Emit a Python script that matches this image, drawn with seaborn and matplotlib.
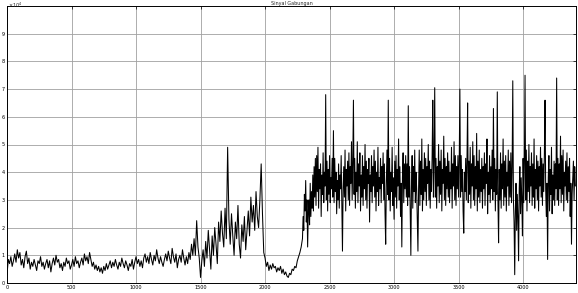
import numpy as np
import pandas as pd
import matplotlib
matplotlib.use("Agg")
import matplotlib.pyplot as plt
import seaborn as sns

# ---- data (values in units of 1e4) ----
# quiet / burst / dip: one value every 10 samples; loud: one value every 5 samples
quiet = [0.30, 0.85, 0.70, 0.95, 0.60, 0.80, 1.05, 0.75, 1.20, 0.90,
         1.10, 0.65, 0.85, 0.55, 0.95, 1.15, 0.70, 0.90, 0.50, 0.75,
         0.60, 0.85, 0.65, 0.45, 0.80, 0.70, 0.95, 0.60, 0.75, 0.50,
         0.70, 0.85, 0.55, 0.80, 0.40, 0.70, 0.90, 0.65, 1.00, 0.75,
         0.85, 0.55, 0.70, 0.45, 0.75, 0.60, 0.90, 0.70, 0.80, 0.50,
         0.65, 0.85, 0.60, 0.95, 0.70, 0.80, 0.55, 0.75, 0.90, 0.65,
         1.05, 0.80, 0.95, 0.70, 1.10, 0.85, 0.60, 0.75, 0.50, 0.65,
         0.45, 0.60, 0.40, 0.55, 0.35, 0.60, 0.45, 0.70, 0.50, 0.65,
         0.80, 0.55, 0.75, 0.60, 0.85, 0.65, 0.50, 0.75, 0.60, 0.90,
         0.70, 0.55, 0.80, 0.65, 0.45, 0.70, 0.60, 0.85, 0.50, 0.75,
         0.95, 0.70, 0.85, 0.60, 0.80, 0.55, 0.90, 1.05, 0.75, 0.95,
         0.70, 1.10, 0.85, 0.65, 1.00, 0.80, 1.20, 0.90, 0.70, 0.95,
         0.75, 0.60, 0.85, 1.05, 0.80, 1.15, 0.90, 0.70, 1.25, 0.95,
         0.75, 1.05, 0.55, 0.85, 1.00, 0.75, 1.20, 0.90, 0.65, 0.95,
         0.70, 1.10, 0.85, 1.40, 1.00]
burst = [1.60, 1.00, 2.25, 1.30, 0.90, 0.20, 0.80, 1.20, 0.60, 1.50,
         0.90, 1.90, 1.20, 0.50, 1.70, 1.00, 2.00, 1.40, 0.70, 2.20,
         1.50, 2.60, 1.80, 1.30, 2.70, 1.60, 4.90, 2.30, 1.40, 2.50,
         1.70, 1.00, 2.20, 1.60, 2.80, 1.40, 0.90, 2.10, 1.50, 2.40,
         1.20, 1.90, 2.60, 1.70, 3.10, 2.20, 2.80, 1.90, 3.30, 2.40,
         2.00, 3.00, 4.30, 2.50, 1.10]
dip = [0.90, 0.60, 0.75, 0.45, 0.65, 0.50, 0.70, 0.55, 0.60, 0.40,
       0.55, 0.45, 0.60, 0.35, 0.50, 0.30, 0.40, 0.25, 0.20, 0.35,
       0.30, 0.50, 0.45, 0.60, 0.55, 0.80, 0.95, 1.10, 1.30]
loud = [1.60, 2.40, 1.90, 3.20, 2.60, 3.70, 2.20, 3.00, 1.30, 2.50,
        3.00, 2.10, 3.60, 2.40, 3.30, 2.70, 3.90, 2.60, 4.20, 3.10,
        4.50, 2.80, 4.60, 3.30, 4.90, 2.70, 4.10, 3.40, 4.30, 2.40,
        3.90, 3.20, 4.70, 2.90, 4.00, 3.50, 6.80, 3.00, 4.40, 2.60,
        4.10, 3.20, 4.60, 2.90, 3.80, 3.40, 4.50, 3.10, 5.50, 2.90,
        4.50, 3.30, 4.00, 2.50, 3.70, 3.00, 4.30, 2.70, 3.90, 3.40,
        4.60, 2.80, 1.15, 3.40, 4.20, 3.10, 4.80, 2.60, 4.10, 3.50,
        4.40, 3.00, 4.70, 2.80, 4.20, 3.60, 5.10, 3.00, 4.30, 6.60,
        3.20, 4.50, 2.70, 4.00, 3.30, 5.10, 2.90, 4.30, 3.50, 4.70,
        2.60, 3.90, 3.10, 4.60, 2.80, 4.20, 3.40, 5.00, 3.00, 4.40,
        2.70, 4.10, 3.60, 4.50, 2.20, 3.90, 3.30, 4.60, 2.90, 4.20,
        3.50, 4.80, 3.10, 4.40, 2.60, 4.00, 3.30, 4.90, 2.80, 3.80,
        3.40, 4.50, 2.90, 4.20, 3.60, 4.70, 3.00, 4.30, 2.50, 1.40,
        3.60, 4.80, 3.20, 6.60, 3.00, 4.50, 2.60, 4.00, 3.30, 4.90,
        2.80, 3.80, 2.30, 4.40, 3.10, 4.60, 2.70, 4.10, 3.50, 5.20,
        3.00, 4.20, 2.40, 3.60, 1.30, 3.80, 4.70, 2.90, 4.30, 3.40,
        4.60, 3.10, 4.30, 2.80, 6.40, 3.10, 4.20, 2.50, 1.00, 3.50,
        4.60, 2.70, 4.20, 3.30, 4.80, 2.90, 4.00, 3.40, 2.20, 1.15,
        3.40, 4.80, 2.80, 4.40, 3.20, 5.20, 2.60, 4.10, 3.00, 4.70,
        3.30, 4.50, 2.80, 4.20, 3.60, 5.00, 3.00, 4.40, 2.70, 4.10,
        3.30, 4.60, 6.60, 3.10, 4.40, 7.05, 3.10, 4.50, 2.70, 4.20,
        3.50, 5.00, 2.90, 4.40, 3.20, 4.80, 2.60, 4.10, 3.60, 5.30,
        3.00, 4.50, 2.80, 4.20, 3.40, 4.70, 3.10, 4.40, 2.90, 4.00,
        3.40, 4.90, 2.70, 4.30, 3.50, 5.10, 3.00, 4.60, 2.80, 4.20,
        3.40, 4.60, 3.10, 4.40, 7.00, 3.10, 4.60, 3.30, 4.10, 2.60,
        1.80, 4.00, 3.30, 4.50, 3.00, 4.40, 6.50, 2.90, 4.40, 3.20,
        4.90, 2.70, 4.30, 3.50, 5.10, 3.00, 4.60, 2.80, 4.20, 3.40,
        5.40, 2.60, 4.40, 3.10, 4.80, 2.90, 4.10, 3.30, 4.50, 2.70,
        4.20, 3.40, 4.70, 2.80, 4.30, 3.60, 5.20, 2.50, 4.00, 3.20,
        4.60, 2.90, 4.20, 3.40, 4.80, 3.00, 6.30, 3.30, 4.50, 2.60,
        4.10, 3.20, 6.90, 3.00, 1.45, 4.10, 3.00, 4.70, 2.70, 4.30,
        3.40, 5.20, 2.80, 4.40, 3.10, 4.60, 2.60, 4.00, 3.50, 4.80,
        2.80, 4.40, 3.10, 4.70, 2.90, 4.20, 7.30, 3.00, 2.20, 0.30,
        2.60, 3.60, 1.90, 3.20, 2.40, 0.80, 3.40, 4.20, 2.50, 3.80,
        3.00, 1.70, 4.50, 2.90, 4.30, 7.50, 3.00, 4.80, 2.60, 4.40,
        3.30, 5.00, 2.90, 4.20, 3.50, 4.70, 2.80, 4.30, 3.10, 5.20,
        2.70, 4.10, 3.40, 4.60, 3.00, 4.40, 2.60, 4.20, 3.50, 4.90,
        3.10, 4.50, 2.80, 4.30, 3.30, 4.70, 6.60, 3.40, 2.40, 3.60,
        0.85, 3.80, 4.60, 2.60, 4.10, 3.20, 4.90, 2.50, 3.90, 3.00,
        4.40, 2.80, 4.30, 3.40, 7.40, 3.00, 4.50, 2.80, 4.30, 3.40,
        5.30, 2.90, 4.60, 3.20, 4.80, 2.60, 4.00, 3.50, 4.40, 3.00,
        4.70, 2.90, 4.20, 3.30, 4.50, 2.40, 3.60, 1.40, 3.20, 3.80,
        4.40, 3.00, 4.20, 3.50]

coarse_step = 10
fine_step = 5
x_ticks = [0, 500, 1000, 1500, 2000, 2500, 3000, 3500, 4000]
y_ticks = [0, 1, 2, 3, 4, 5, 6, 7, 8, 9]
title = "Sinyal Gabungan"

coarse = quiet + burst + dip
x_coarse = np.arange(len(coarse)) * coarse_step
x_fine = x_coarse[-1] + coarse_step + np.arange(len(loud)) * fine_step
df = pd.DataFrame({"sample": np.concatenate([x_coarse, x_fine]),
                   "amp": coarse + loud})

sns.set_style("white")
fig = plt.figure(figsize=(5.78, 2.93), dpi=100)
ax = fig.add_axes([7 / 578, 1 - 283 / 293, 569 / 578, 277 / 293])

sns.lineplot(data=df, x="sample", y="amp", ax=ax, color="black",
             linewidth=0.75, sort=False, estimator=None)

ax.set_xlim(0, 4410)
ax.set_ylim(0, 10)
ax.set_xticks(x_ticks)
ax.set_yticks(y_ticks)
ax.set_xticklabels([str(t) for t in x_ticks])
ax.set_yticklabels([str(t) for t in y_ticks])
ax.grid(True, color="#a0a0a0", linewidth=0.6)
ax.set_axisbelow(True)
ax.tick_params(axis="both", direction="in", length=2, width=0.5,
               labelsize=3.5, pad=1.5, colors="black",
               top=True, right=True)
for s in ax.spines.values():
    s.set_color("black")
    s.set_linewidth(0.7)
ax.set_xlabel("")
ax.set_ylabel("")
ax.set_title(title, fontsize=3.5, pad=0.8)
fig.text(8 / 578, 1 - 1 / 293, r"$\times10^4$", fontsize=3.5,
         ha="left", va="top")

fig.savefig("out.png", dpi=100)
